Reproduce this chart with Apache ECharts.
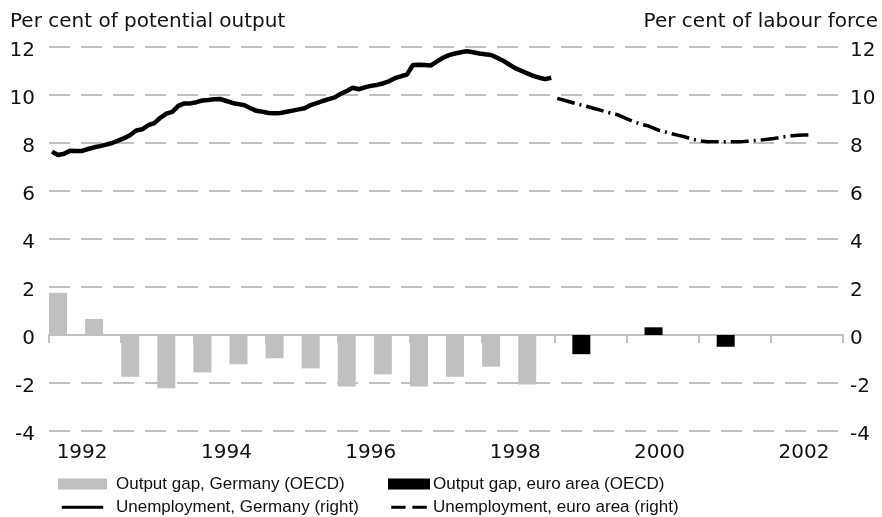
<!DOCTYPE html>
<html>
<head>
<meta charset="utf-8">
<script src="https://cdn.jsdelivr.net/npm/echarts@6/dist/echarts.min.js"></script>
<style>
  html, body { margin: 0; padding: 0; background: #fff; }
  #chart { width: 882px; height: 517px; }
</style>
</head>
<body>
<div id="chart"></div>
<script>
// Monthly category axis, January 1992 to December 2002
const firstYear = 1992;
const lastYear = 2002;

// Unemployment rate, Germany, monthly from 1992-01 (per cent of labour force)
const unempGermanyStart = '1992-01';
const unempGermany = [
  7.64, 7.50, 7.55, 7.68, 7.67, 7.67, 7.75, 7.82, 7.87, 7.93, 8.00, 8.10,
  8.20, 8.33, 8.52, 8.57, 8.74, 8.83, 9.05, 9.22, 9.30, 9.55, 9.65, 9.65,
  9.70, 9.77, 9.79, 9.82, 9.83, 9.75, 9.67, 9.62, 9.57, 9.45, 9.34, 9.30,
  9.25, 9.24, 9.25, 9.30, 9.35, 9.40, 9.45, 9.58, 9.66, 9.75, 9.83, 9.90,
  10.05, 10.17, 10.30, 10.24, 10.32, 10.38, 10.42, 10.48, 10.57, 10.70, 10.78, 10.85,
  11.25, 11.26, 11.25, 11.23, 11.40, 11.55, 11.66, 11.73, 11.78, 11.82, 11.78, 11.73,
  11.70, 11.67, 11.55, 11.43, 11.27, 11.12, 11.01, 10.90, 10.80, 10.72, 10.66, 10.72
];

// Unemployment rate, euro area, monthly from 1999-01
const unempEuroStart = '1999-01';
const unempEuro = [
  9.86, 9.79, 9.72, 9.65, 9.58, 9.52, 9.45, 9.38, 9.30, 9.24, 9.18, 9.07,
  8.96, 8.86, 8.78, 8.72, 8.62, 8.52, 8.46, 8.39, 8.33, 8.27, 8.19, 8.13,
  8.08, 8.05, 8.05, 8.05, 8.05, 8.05, 8.05, 8.06, 8.08, 8.11, 8.13, 8.16,
  8.19, 8.23, 8.27, 8.30, 8.32, 8.33, 8.33
];

// Output gap, Germany (OECD), half-yearly
const gapGermanyDates = [
  '1992-02', '1992-08', '1993-02', '1993-08', '1994-02', '1994-08', '1995-02',
  '1995-08', '1996-02', '1996-08', '1997-02', '1997-08', '1998-02', '1998-08'
];
const gapGermany = [1.76, 0.67, -1.74, -2.22, -1.56, -1.22, -0.97,
                    -1.39, -2.15, -1.64, -2.15, -1.74, -1.32, -2.06];

// Output gap, euro area (OECD), yearly
const gapEuroDates = ['1999-05', '2000-05', '2001-05'];
const gapEuro = [-0.80, 0.32, -0.49];

// Axis ticks
const yMin = -4, yMax = 12, yStep = 2;

const seriesNames = [
  'Output gap, Germany (OECD)',
  'Output gap, euro area (OECD)',
  'Unemployment, Germany (right)',
  'Unemployment, euro area (right)'
];

// ---- build the month categories and the per-month series arrays ----
const months = [];
for (let y = firstYear; y <= lastYear; y++) {
  for (let m = 1; m <= 12; m++) months.push(y + '-' + String(m).padStart(2, '0'));
}
function placeSeries(start, values) {
  const out = months.map(() => null);
  const i0 = months.indexOf(start);
  values.forEach((v, i) => { out[i0 + i] = v; });
  return out;
}
function placePoints(dates, values) {
  const out = months.map(() => null);
  dates.forEach((d, i) => { out[months.indexOf(d)] = values[i]; });
  return out;
}

const FONT = 'DejaVu Sans';
const LEGEND_FONT = 'Liberation Sans';
const GRID_GREY = '#c0c0c0';

// Legend keys for the two lines: a thin bar inside an invisible 13-unit tall frame
const ICON_SOLID = 'path://M0,0L0.01,0M0,5L49,5L49,8.5L0,8.5ZM0,13L0.01,13';
const ICON_DASHED = 'path://M0,0L0.01,0M0,5L17,5L17,8.5L0,8.5ZM25,5L42,5L42,8.5L25,8.5ZM0,13L0.01,13';

const chart = echarts.init(document.getElementById('chart'), null, { renderer: 'canvas' });

// value labels sit a little below their grid line
const yLabel = {
  fontFamily: FONT, fontSize: 20, color: '#111',
  formatter: (v) => '{v|' + v + '}',
  rich: { v: { fontFamily: FONT, fontSize: 20, color: '#111', padding: [7, 0, 0, 0] } }
};

const yAxisBase = {
  type: 'value',
  min: yMin, max: yMax, interval: yStep,
  axisLine: { show: false },
  axisTick: { show: false }
};

const legendText = { fontFamily: LEGEND_FONT, fontSize: 17, color: '#111', lineHeight: 20 };

chart.setOption({
  animation: false,
  backgroundColor: '#fff',
  title: [
    { text: 'Per cent of potential output', left: 10, top: 12, padding: 0,
      textStyle: { fontFamily: FONT, fontSize: 20, fontWeight: 'normal', color: '#111' } },
    { text: 'Per cent of labour force', right: 4, top: 12, padding: 0,
      textStyle: { fontFamily: FONT, fontSize: 20, fontWeight: 'normal', color: '#111' } }
  ],
  grid: { left: 49, right: 39, top: 47, bottom: 86, containLabel: false },
  legend: [
    {
      data: [{ name: seriesNames[0], icon: 'rect' }, { name: seriesNames[2], icon: ICON_SOLID }],
      orient: 'vertical', left: 58, top: 474, height: 60, padding: 0,
      itemWidth: 49, itemHeight: 11, itemGap: 3,
      textStyle: Object.assign({ padding: [0, 0, 0, 4] }, legendText)
    },
    {
      data: [{ name: seriesNames[1], icon: 'rect' }, { name: seriesNames[3], icon: ICON_DASHED }],
      orient: 'vertical', left: 388, top: 474, height: 60, padding: 0,
      itemWidth: 42, itemHeight: 11, itemGap: 3,
      textStyle: Object.assign({ padding: [0, 0, 0, -2] }, legendText)
    }
  ],
  xAxis: {
    type: 'category',
    data: months,
    boundaryGap: true,
    axisLine: { lineStyle: { color: GRID_GREY, width: 2 } },
    axisTick: {
      show: true, length: 8,
      interval: (i) => i % 12 === 0,
      lineStyle: { color: GRID_GREY, width: 2 }
    },
    axisLabel: {
      interval: (i) => i % 24 === 5,
      formatter: (v) => v.slice(0, 4),
      fontFamily: FONT, fontSize: 20, color: '#111', margin: 12
    },
    splitLine: { show: false }
  },
  yAxis: [
    Object.assign({}, yAxisBase, {
      position: 'left',
      axisLabel: Object.assign({}, yLabel, { margin: 14 }),
      splitLine: { show: true, lineStyle: { color: GRID_GREY, width: 2, type: [21, 11] } }
    }),
    Object.assign({}, yAxisBase, {
      position: 'right',
      axisLabel: Object.assign({}, yLabel, { margin: 7 }),
      splitLine: { show: false }
    })
  ],
  series: [
    {
      name: seriesNames[0], type: 'bar', yAxisIndex: 0,
      data: placePoints(gapGermanyDates, gapGermany),
      barWidth: 18, barGap: '-100%',
      itemStyle: { color: '#c0c0c0' }
    },
    {
      name: seriesNames[1], type: 'bar', yAxisIndex: 0,
      data: placePoints(gapEuroDates, gapEuro),
      barWidth: 18, barGap: '-100%',
      itemStyle: { color: '#000' }
    },
    {
      name: seriesNames[2], type: 'line', yAxisIndex: 1,
      data: placeSeries(unempGermanyStart, unempGermany),
      symbol: 'none', connectNulls: false,
      lineStyle: { color: '#000', width: 4.5 },
      itemStyle: { color: '#000' }
    },
    {
      name: seriesNames[3], type: 'line', yAxisIndex: 1,
      data: placeSeries(unempEuroStart, unempEuro),
      symbol: 'none', connectNulls: false,
      lineStyle: { color: '#000', width: 3.5, type: [18, 5, 2, 5] },
      itemStyle: { color: '#000' }
    }
  ]
});
</script>
</body>
</html>
